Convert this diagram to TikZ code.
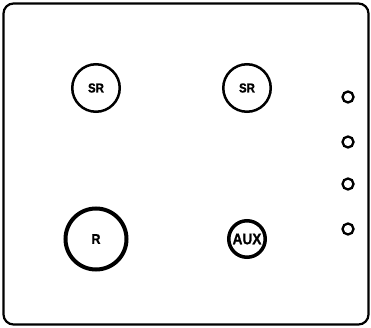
\documentclass[tikz,border=0pt]{standalone}
\usepackage{fontspec}
\setmainfont{Liberation Sans}
\newfontfamily\knobfont{Liberation Sans}[FakeStretch=0.88,FakeBold=1]
\usepackage{tikz}
\usetikzlibrary{positioning}

\begin{document}
\begin{tikzpicture}[x=1pt,y=-1pt,
    knob/.style={circle,draw,line width=2.5pt,inner sep=0pt,minimum size=47.5pt,font=\knobfont\fontsize{13}{13}\selectfont\bfseries},
    led/.style={circle,draw,line width=2.3pt,inner sep=0pt,minimum size=11pt}]
        \useasboundingbox (0,0) rectangle (371,328);
        % front plate
        \draw[line width=2.2pt,rounded corners=10pt] (3.5,3.5) rectangle (368.5,324.5);
        \path
        % upper row
        +(96,88)  node[knob]  (sr1) {SR}
        +(247,88) node[knob]  (sr2) {SR}
        % lower row
        +(96,239) node[knob,line width=4pt,minimum size=61pt,font=\knobfont\fontsize{14}{14}\selectfont\bfseries]  (r) {R}
        +(247,239) node[knob,line width=3.5pt,minimum size=36.5pt,font=\knobfont\fontsize{15.5}{15.5}\selectfont\bfseries]  (aux) {AUX};
        % status leds
        \path
        +(348,97)  node[led] (led1) {}
        +(348,142) node[led] (led2) {}
        +(348,184) node[led] (led3) {}
        +(348,229) node[led] (led4) {};
    \end{tikzpicture}
\end{document}
